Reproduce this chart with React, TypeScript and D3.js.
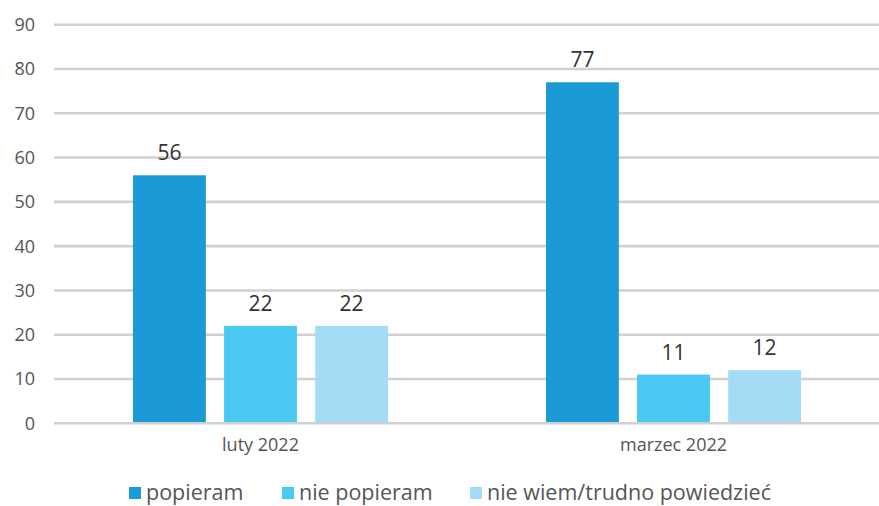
import React from "react";
import * as d3 from "d3";

const categories = ["luty 2022", "marzec 2022"];
const seriesNames = ["popieram", "nie popieram", "nie wiem/trudno powiedzieć"];
const popieram = [56, 77];
const niePopieram = [22, 11];
const nieWiem = [22, 12];
const yTicks = [0, 10, 20, 30, 40, 50, 60, 70, 80, 90];
const colors = ["#1a9ad6", "#4bc8f2", "#a5dcf5"];

const W = 879;
const H = 506;
const FONT = "'Open Sans', 'Noto Sans', sans-serif";

export default function App() {
  const series = [popieram, niePopieram, nieWiem];
  const x = d3.scaleBand<string>().domain(categories).range([54, 880]).paddingInner(0).paddingOuter(0);
  const y = d3.scaleLinear().domain([0, 90]).range([423.3, 24.7]);
  const inner = d3.scaleBand<number>().domain([0, 1, 2]).range([-127.5, 127.5]).paddingInner(0.2).paddingOuter(0);
  const legendX = [129, 282, 470];

  return (
    <svg width={W} height={H} style={{ position: "absolute", left: 0, top: 0, background: "#fff" }}>
      {yTicks.map((t) => (
        <g key={t}>
          <line x1={54} x2={879} y1={y(t)} y2={y(t)} stroke="#d0d0d0" strokeWidth={2.6} />
          <text x={35} y={y(t)} dy="0.36em" textAnchor="end" fontFamily={FONT} fontSize={18} fill="#555">
            {t}
          </text>
        </g>
      ))}
      {categories.map((c, ci) => {
        const cx = (x(c) as number) + x.bandwidth() / 2;
        return (
          <g key={c}>
            {series.map((s, si) => {
              const bx = cx + (inner(si) as number);
              return (
                <g key={si}>
                  <rect x={bx} y={y(s[ci])} width={inner.bandwidth()} height={y(0) - y(s[ci]) - 1.3} fill={colors[si]} />
                  <text x={bx + inner.bandwidth() / 2} y={y(s[ci]) - 15} textAnchor="middle" fontFamily={FONT} fontSize={21} fill="#333">
                    {s[ci]}
                  </text>
                </g>
              );
            })}
            <text x={cx} y={451} textAnchor="middle" fontFamily={FONT} fontSize={18} fill="#555">
              {c}
            </text>
          </g>
        );
      })}
      {seriesNames.map((n, i) => (
        <g key={n}>
          <rect x={legendX[i]} y={487} width={12} height={12} fill={colors[i]} />
          <text x={legendX[i] + 17} y={500} fontFamily={FONT} fontSize={21.5} fill="#555">
            {n}
          </text>
        </g>
      ))}
    </svg>
  );
}
